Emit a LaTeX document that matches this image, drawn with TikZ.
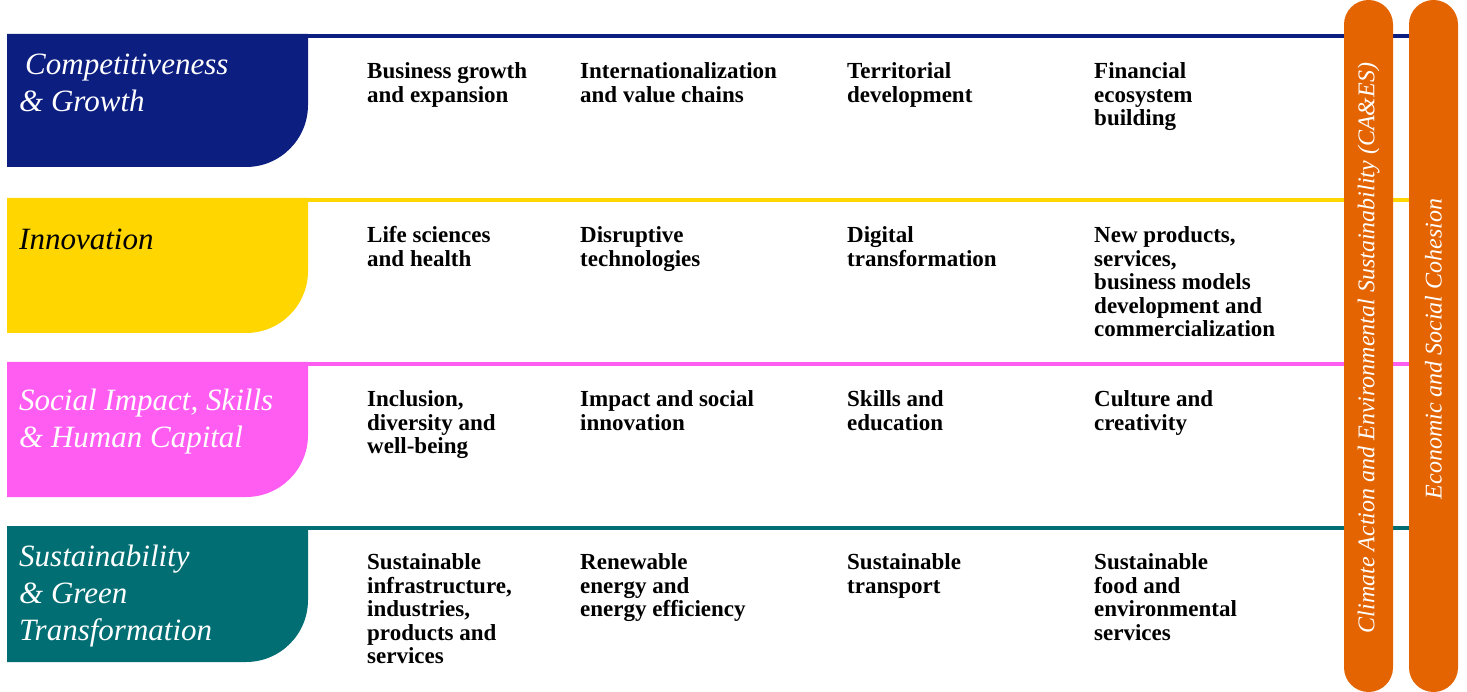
\documentclass[tikz,border=0pt]{standalone}
\usepackage{fontspec}
\setmainfont{Liberation Serif}
\definecolor{compblue}{RGB}{12,30,128}
\definecolor{innoyellow}{RGB}{255,214,0}
\definecolor{socialpink}{RGB}{255,92,242}
\definecolor{greenteal}{RGB}{0,110,115}
\definecolor{caesorange}{RGB}{227,100,0}
\begin{document}
\begin{tikzpicture}[x=1pt, y=-1pt,
    title/.style={anchor=north west, inner sep=0, align=left, font=\itshape\fontsize{31}{37}\selectfont, execute at begin node=\strut},
    item/.style={anchor=north west, inner sep=0, align=left, font=\bfseries\fontsize{23}{23.5}\selectfont, execute at begin node=\strut},
    pill/.style={fill=caesorange, rounded corners=24.5pt},
    side/.style={rotate=90, inner sep=0, text=white, font=\itshape\fontsize{24}{28}\selectfont}]
  \useasboundingbox (0,0) rectangle (1467,692);
  % Row rules
  \draw[compblue, line width=4pt] (7,36) -- (1409,36);
  \draw[innoyellow, line width=4pt] (7,200) -- (1409,200);
  \draw[socialpink, line width=4pt] (7,364) -- (1409,364);
  \draw[greenteal, line width=4pt] (7,528) -- (1409,528);
  % Row bands
  \fill[compblue] (7,34) -- (308,34) [rounded corners=62pt] -- (308,167) [sharp corners] -- (7,167) -- cycle;
  \fill[innoyellow] (7,198) -- (308,198) [rounded corners=62pt] -- (308,333) [sharp corners] -- (7,333) -- cycle;
  \fill[socialpink] (7,362) -- (308,362) [rounded corners=62pt] -- (308,497) [sharp corners] -- (7,497) -- cycle;
  \fill[greenteal] (7,526) -- (308,526) [rounded corners=62pt] -- (308,662) [sharp corners] -- (7,662) -- cycle;
  % Row titles
  \node[title, text=white] (comp) at (19,54) {\hspace*{6pt}Competitiveness\\\&~Growth};
  \node[title] (inno) at (19,223) {Innovation};
  \node[title, text=white] (social) at (19,389) {Social Impact, Skills\\\&~Human Capital};
  \node[title, text=white] (green) at (19,545) {Sustainability\\\&~Green\\Transformation};
  % Competitiveness & Growth
  \node[item] (comp1) at (367,62.5) {Business growth\\and expansion};
  \node[item] (comp2) at (580,62.5) {Internationalization\\and value chains};
  \node[item] (comp3) at (847,62.5) {Territorial\\development};
  \node[item] (comp4) at (1094,62.5) {Financial\\ecosystem\\building};
  % Innovation
  \node[item] (inno1) at (367,226.5) {Life sciences\\and health};
  \node[item] (inno2) at (580,226.5) {Disruptive\\technologies};
  \node[item] (inno3) at (847,226.5) {Digital\\transformation};
  \node[item] (inno4) at (1094,226.5) {New products,\\services,\\business models\\development and\\commercialization};
  % Social Impact, Skills & Human Capital
  \node[item] (social1) at (367,390.5) {Inclusion,\\diversity and\\well-being};
  \node[item] (social2) at (580,390.5) {Impact and social\\innovation};
  \node[item] (social3) at (847,390.5) {Skills and\\education};
  \node[item] (social4) at (1094,390.5) {Culture and\\creativity};
  % Sustainability & Green Transformation
  \node[item] (green1) at (367,553.5) {Sustainable\\infrastructure,\\industries,\\products and\\services};
  \node[item] (green2) at (580,553.5) {Renewable\\energy and\\energy efficiency};
  \node[item] (green3) at (847,553.5) {Sustainable\\transport};
  \node[item] (green4) at (1094,553.5) {Sustainable\\food and\\environmental\\services};
  % Cross-cutting pillars
  \fill[pill] (1344,0) rectangle (1393,692);
  \fill[pill] (1409,0) rectangle (1458,692);
  \node[side] (caes) at (1368.5,348) {Climate Action and Environmental Sustainability (CA\&ES)};
  \node[side] (cohesion) at (1433.5,349) {Economic and Social Cohesion};
\end{tikzpicture}
\end{document}
